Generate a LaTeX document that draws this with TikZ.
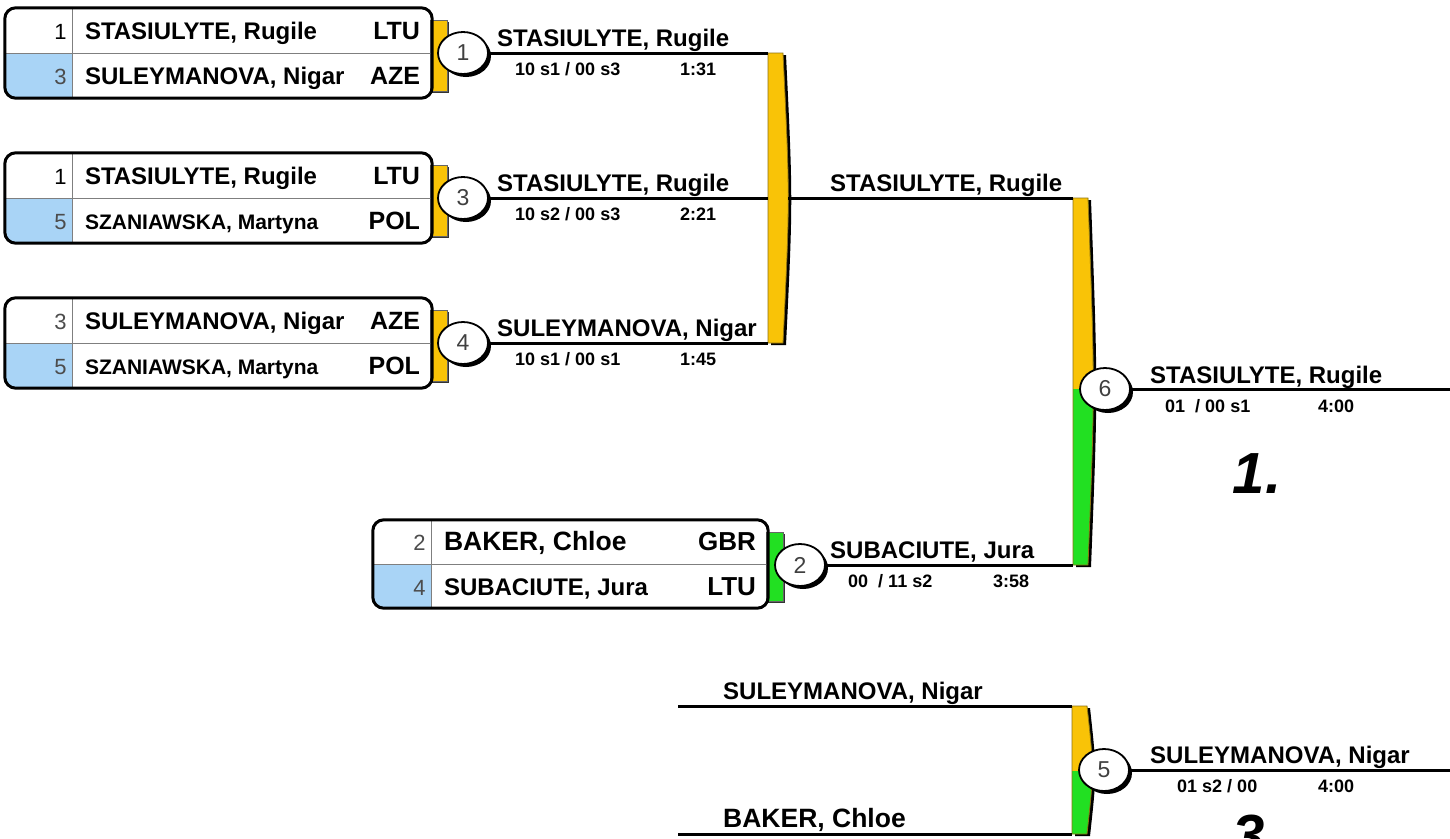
\documentclass[tikz,border=0pt]{standalone}
\usepackage{fontspec}
\setmainfont{Liberation Sans}
\usetikzlibrary{positioning, shapes.geometric, calc, shadows}
\definecolor{brGold}{HTML}{F9C307}
\definecolor{brGoldDark}{HTML}{8F7212}
\definecolor{brGreen}{HTML}{22E022}
\definecolor{brGreenDark}{HTML}{1E8E1E}
\definecolor{brSeed}{HTML}{A9D4F6}
\definecolor{brGrid}{HTML}{7F7F7F}
\newcommand{\brfont}[1]{\fontsize{#1}{#1}\selectfont}
% bracket bar: x, top, middle, bottom
\newcommand{\barpath}[4]{(#1,#2) -- (#1+15,#2) .. controls (#1+22,#3) .. (#1+15,#4) -- (#1,#4) -- cycle}
% rows of a pair box: box, seed column, seed/name/nation top, seed/name/nation bottom
\newcommand{\pairrows}[8]{%
  \begin{scope}
    \clip[rounded corners=11pt] (#1.north west) rectangle (#1.south east);
    \fill[brSeed] (#1.west) rectangle ($(#1.south west)+(#2,0)$);
  \end{scope}
  \draw[brGrid, line width=1pt] ($(#1.north west)+(#2,0)$) -- ($(#1.south west)+(#2,0)$);
  \draw[brGrid, line width=1pt] (#1.west) -- (#1.east);
  \draw[boxrim] (#1.north west) rectangle (#1.south east);
  \node[seednum] (#1s1) at ($(#1.west)+(#2-6,-14)$) {#3};
  \node[athlete] (#1n1) at ($(#1.west)+(#2+12,-14)$) {#4};
  \node[nation] (#1c1) at ($(#1.east)+(-12,-14)$) {#5};
  \node[seednum] (#1s2) at ($(#1.west)+(#2-6,31)$) {#6};
  \node[athlete] (#1n2) at ($(#1.west)+(#2+12,31)$) {#7};
  \node[nation] (#1c2) at ($(#1.east)+(-12,31)$) {#8};
}
\tikzset{
  pairbox/.style={rectangle, fill=white, inner sep=0pt, minimum height=90pt},
  boxrim/.style={draw=black, line width=3pt, rounded corners=11pt},
  seednum/.style={font=\brfont{22}, text=black!70, anchor=base east, inner sep=0pt},
  athlete/.style={font=\brfont{24}\bfseries, anchor=base west, inner sep=0pt},
  nation/.style={font=\brfont{25}\bfseries, anchor=base east, inner sep=0pt},
  matchno/.style={ellipse, draw=black, line width=1.8pt, fill=white,
    minimum width=50pt, minimum height=42pt, inner sep=0pt,
    font=\brfont{23}, text=black!75,
    drop shadow={shadow xshift=3pt, shadow yshift=-3pt, fill=black, opacity=1}},
  tab/.style={fill=#1, draw=black!60, line width=0.6pt,
    drop shadow={shadow xshift=2pt, shadow yshift=-2pt, fill=black, opacity=0.8}},
  bline/.style={line width=3pt, black},
  winner/.style={font=\brfont{24}\bfseries, anchor=base west, inner sep=0pt},
  score/.style={font=\brfont{18}\bfseries, anchor=base west, inner sep=0pt},
  place/.style={font=\brfont{58}\bfseries\itshape, anchor=base, inner sep=0pt}
}

\begin{document}
\begin{tikzpicture}[x=1pt, y=-1pt]
  \useasboundingbox (0,0) rectangle (1450,838);
  \fill[white] (0,0) rectangle (1450,838);

  % pair boxes
  \node[pairbox, minimum width=427pt] (b1) at (218.5,53) {};
  \node[pairbox, minimum width=427pt] (b3) at (218.5,198) {};
  \node[pairbox, minimum width=427pt] (b4) at (218.5,343) {};
  \node[pairbox, minimum width=395pt, minimum height=88pt] (b2) at (570.5,564) {};
  \path[tab=brGold] ($(b1.north east)+(-2,12)$) rectangle ($(b1.south east)+(15,-7)$);
  \path[tab=brGold] ($(b3.north east)+(-2,12)$) rectangle ($(b3.south east)+(15,-7)$);
  \path[tab=brGold] ($(b4.north east)+(-2,12)$) rectangle ($(b4.south east)+(15,-7)$);
  \path[tab=brGreen] ($(b2.north east)+(-2,12)$) rectangle ($(b2.south east)+(15,-7)$);
  \pairrows{b1}{68}{\textcolor{black}{1}}{STASIULYTE, Rugile}{LTU}{3}{SULEYMANOVA, Nigar}{AZE}
  \pairrows{b3}{68}{\textcolor{black}{1}}{STASIULYTE, Rugile}{LTU}{5}{\brfont{21}SZANIAWSKA, Martyna}{POL}
  \pairrows{b4}{68}{3}{SULEYMANOVA, Nigar}{AZE}{5}{\brfont{21}SZANIAWSKA, Martyna}{POL}
  \pairrows{b2}{59}{2}{\brfont{26.5}BAKER, Chloe}{\brfont{26}GBR}{4}{SUBACIUTE, Jura}{\brfont{26}LTU}

  % bracket bars
  \fill[black, xshift=3pt, yshift=-2pt] \barpath{768}{53}{198}{343};
  \filldraw[fill=brGold, draw=brGoldDark, line width=0.8pt] \barpath{768}{53}{198}{343};
  \fill[black, xshift=3pt, yshift=-2pt] \barpath{1073}{198}{388}{565};
  \fill[brGreen] \barpath{1073}{198}{388}{565};
  \begin{scope}
    \clip (1060,190) rectangle (1110,388);
    \fill[brGold] \barpath{1073}{198}{388}{565};
  \end{scope}
  \draw[brGoldDark, line width=0.8pt] \barpath{1073}{198}{388}{565};
  \fill[black, xshift=3pt, yshift=-2pt] \barpath{1072}{706}{770}{834};
  \fill[brGreen] \barpath{1072}{706}{770}{834};
  \begin{scope}
    \clip (1060,700) rectangle (1110,770);
    \fill[brGold] \barpath{1072}{706}{770}{834};
  \end{scope}
  \draw[brGoldDark, line width=0.8pt] \barpath{1072}{706}{770}{834};

  % match numbers
  \node[matchno] (m1) at (463,53) {1};
  \node[matchno] (m3) at (463,198) {3};
  \node[matchno] (m4) at (463,343) {4};
  \node[matchno] (m2) at (800,565) {2};
  \node[matchno] (m6) at (1105,389) {6};
  \node[matchno] (m5) at (1104,770) {5};

  % line ends
  \coordinate (j1) at (768,53);
  \coordinate (j3) at (768,198);
  \coordinate (j4) at (768,343);
  \coordinate (pa) at (788,198);
  \coordinate (k1) at (1073,198);
  \coordinate (k2) at (1073,565);
  \coordinate (f6) at (1450,389);
  \coordinate (q1) at (678,706);
  \coordinate (q1e) at (1072,706);
  \coordinate (q2) at (678,834);
  \coordinate (q2e) at (1072,834);
  \coordinate (f5) at (1450,770);

  \draw[bline] (m1) -- (j1);
  \draw[bline] (m3) -- (j3);
  \draw[bline] (m4) -- (j4);
  \draw[bline] (pa) -- (k1);
  \draw[bline] (m2) -- (k2);
  \draw[bline] (m6) -- (f6);
  \draw[bline] (q1) -- (q1e);
  \draw[bline] (q2) -- (q2e);
  \draw[bline] (m5) -- (f5);

  % winners and results
  \node[winner] (w1) at (497,46) {STASIULYTE, Rugile};
  \node[score] (r1) at (515,75) {10 s1 / 00 s3};
  \node[score] (t1) at (680,75) {1:31};
  \node[winner] (w3) at (497,191) {STASIULYTE, Rugile};
  \node[score] (r3) at (515,220) {10 s2 / 00 s3};
  \node[score] (t3) at (680,220) {2:21};
  \node[winner] (w4) at (497,336) {SULEYMANOVA, Nigar};
  \node[score] (r4) at (515,365) {10 s1 / 00 s1};
  \node[score] (t4) at (680,365) {1:45};
  \node[winner] (wp) at (830,191) {STASIULYTE, Rugile};
  \node[winner] (w2) at (830,558) {SUBACIUTE, Jura};
  \node[score] (r2) at (848,587) {00\ \ / 11 s2};
  \node[score] (t2) at (993,587) {3:58};
  \node[winner] (w6) at (1150,383) {STASIULYTE, Rugile};
  \node[score] (r6) at (1165,412) {01\ \ / 00 s1};
  \node[score] (t6) at (1318,412) {4:00};
  \node[winner] (wq1) at (723,699) {SULEYMANOVA, Nigar};
  \node[winner, font=\brfont{26.5}\bfseries] (wq2) at (723,827) {BAKER, Chloe};
  \node[winner] (w5) at (1150,763) {SULEYMANOVA, Nigar};
  \node[score] (r5) at (1177,792) {01 s2 / 00};
  \node[score] (t5) at (1318,792) {4:00};

  % places
  \node[place] (gold) at (1257,493) {1.};
  \node[place] (bronze) at (1257,855) {3.};
\end{tikzpicture}
\end{document}
